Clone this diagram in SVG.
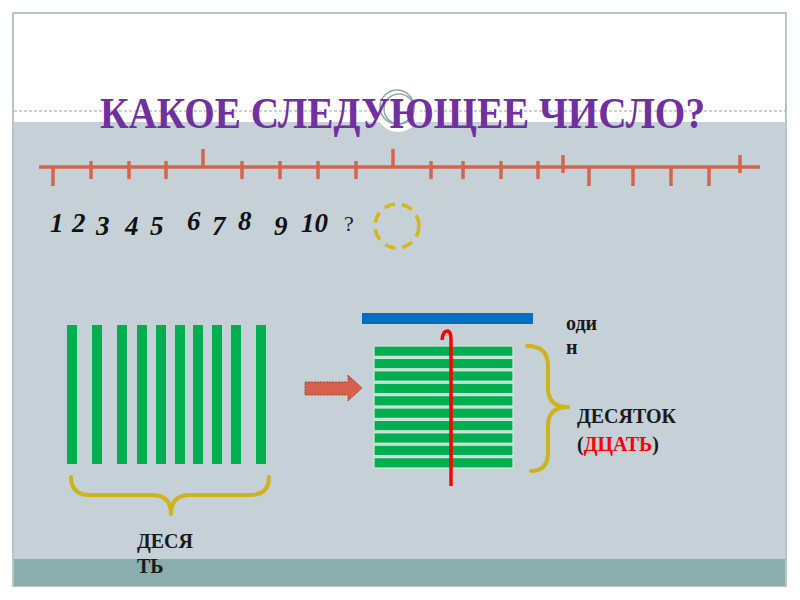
<svg xmlns="http://www.w3.org/2000/svg" width="800" height="600" viewBox="0 0 800 600">
<style>
.tick{stroke:#d4654c;stroke-width:3.5;stroke-linecap:butt}
.vbar{fill:#00b050}
.hbar{fill:#00b050;stroke:#d6e8dc;stroke-width:1.2}
.brace{fill:none;stroke:#cdb31c;stroke-width:4;stroke-linecap:round;stroke-linejoin:round}
.serif{font-family:"Times New Roman","Liberation Serif","DejaVu Serif",serif}
.num{font-weight:bold;font-style:italic;font-size:27px;fill:#111}
.lbl{font-weight:bold;font-size:20px;fill:#1a1a1a}
</style>
<rect width="800" height="600" fill="#ffffff"/>
<g id="frame">
<rect x="13" y="13" width="773" height="573" fill="#ffffff" stroke="#b8c6c6" stroke-width="2"/>
<rect x="14" y="122" width="771" height="437" fill="#c6d0d7"/>
<rect x="14" y="559" width="771" height="27" fill="#8aadad"/>
<line x1="14" y1="111" x2="785" y2="111" stroke="#9aa4a4" stroke-width="1" stroke-dasharray="3 2"/>
<circle cx="398" cy="110" r="22" fill="#ffffff"/>
<circle cx="397" cy="107" r="17" fill="none" stroke="#8fa8a6" stroke-width="1.5"/>
<circle cx="399" cy="109" r="15" fill="none" stroke="#8fa8a6" stroke-width="1.5"/>
</g>
<g id="title">
<text class="serif" x="100" y="128" font-weight="bold" font-size="45" fill="#7030a0" textLength="605" lengthAdjust="spacingAndGlyphs">КАКОЕ СЛЕДУЮЩЕЕ ЧИСЛО?</text>
</g>
<g id="number-line">
<line x1="39" y1="167" x2="760" y2="167" class="tick"/>
<line x1="53" y1="167" x2="53" y2="186" class="tick"/>
<line x1="91" y1="161" x2="91" y2="179" class="tick"/>
<line x1="129" y1="161" x2="129" y2="179" class="tick"/>
<line x1="166" y1="161" x2="166" y2="179" class="tick"/>
<line x1="203" y1="149" x2="203" y2="167" class="tick"/>
<line x1="242" y1="161" x2="242" y2="179" class="tick"/>
<line x1="280" y1="161" x2="280" y2="179" class="tick"/>
<line x1="318" y1="161" x2="318" y2="179" class="tick"/>
<line x1="356" y1="161" x2="356" y2="179" class="tick"/>
<line x1="393" y1="149" x2="393" y2="167" class="tick"/>
<line x1="431" y1="161" x2="431" y2="179" class="tick"/>
<line x1="463" y1="161" x2="463" y2="179" class="tick"/>
<line x1="501" y1="161" x2="501" y2="179" class="tick"/>
<line x1="538" y1="161" x2="538" y2="179" class="tick"/>
<line x1="563" y1="155" x2="563" y2="173" class="tick"/>
<line x1="589" y1="167" x2="589" y2="186" class="tick"/>
<line x1="633" y1="167" x2="633" y2="186" class="tick"/>
<line x1="671" y1="167" x2="671" y2="186" class="tick"/>
<line x1="709" y1="167" x2="709" y2="186" class="tick"/>
<line x1="740" y1="155" x2="740" y2="173" class="tick"/>
</g>
<g id="numbers">
<text class="serif num" x="50" y="232">1</text>
<text class="serif num" x="72" y="232">2</text>
<text class="serif num" x="96" y="235">3</text>
<text class="serif num" x="125" y="235">4</text>
<text class="serif num" x="150" y="235">5</text>
<text class="serif num" x="187" y="230">6</text>
<text class="serif num" x="212" y="235">7</text>
<text class="serif num" x="238" y="230">8</text>
<text class="serif num" x="274" y="235">9</text>
<text class="serif num" x="301" y="232">10</text>
<text class="serif" x="344" y="231" font-size="22" fill="#222">?</text>
<circle cx="397" cy="226" r="22" fill="none" stroke="#d4b71a" stroke-width="3.5" stroke-dasharray="11 7"/>
</g>
<g id="ten-sticks">
<rect class="vbar" x="67" y="325" width="10" height="139"/>
<rect class="vbar" x="92" y="325" width="10" height="139"/>
<rect class="vbar" x="117" y="325" width="10" height="139"/>
<rect class="vbar" x="137" y="325" width="10" height="139"/>
<rect class="vbar" x="156" y="325" width="10" height="139"/>
<rect class="vbar" x="175" y="325" width="10" height="139"/>
<rect class="vbar" x="193" y="325" width="10" height="139"/>
<rect class="vbar" x="212" y="325" width="10" height="139"/>
<rect class="vbar" x="231" y="325" width="10" height="139"/>
<rect class="vbar" x="256" y="325" width="10" height="139"/>
<path class="brace" d="M71,477 Q71,495 90,495 L152,495 Q171,495 171,514 Q171,495 190,495 L250,495 Q269,495 269,477"/>
<text class="serif lbl" x="137" y="548">ДЕСЯ</text>
<text class="serif lbl" x="137" y="573">ТЬ</text>
</g>
<g id="connectors">
<polygon points="305,382 348,382 348,375 362,388 348,401 348,395 305,395" fill="#d6614b" stroke="#a5483a" stroke-width="1" stroke-dasharray="2 1"/>
</g>
<g id="bundle">
<rect x="362" y="313" width="171" height="11" fill="#0070c0"/>
<rect class="hbar" x="374" y="346" width="139" height="10.4"/>
<rect class="hbar" x="374" y="358.4" width="139" height="10.4"/>
<rect class="hbar" x="374" y="370.8" width="139" height="10.4"/>
<rect class="hbar" x="374" y="383.2" width="139" height="10.4"/>
<rect class="hbar" x="374" y="395.6" width="139" height="10.4"/>
<rect class="hbar" x="374" y="408" width="139" height="10.4"/>
<rect class="hbar" x="374" y="420.4" width="139" height="10.4"/>
<rect class="hbar" x="374" y="432.8" width="139" height="10.4"/>
<rect class="hbar" x="374" y="445.2" width="139" height="10.4"/>
<rect class="hbar" x="374" y="457.6" width="139" height="10.4"/>
<path d="M442,340 Q443,330 448,331 Q451,332 451,340 L451,486" fill="none" stroke="#ff0000" stroke-width="3.5"/>
<path class="brace" d="M527,346 Q548,346 548,366 L548,388 Q548,407 568,407 Q548,407 548,426 L548,452 Q548,471 531,471"/>
<text class="serif lbl" x="566" y="330">оди</text>
<text class="serif lbl" x="566" y="354">н</text>
<text class="serif lbl" x="577" y="423">ДЕСЯТОК</text>
<text class="serif lbl" x="577" y="451">(<tspan fill="#ff0000">ДЦАТЬ</tspan>)</text>
</g>
</svg>
